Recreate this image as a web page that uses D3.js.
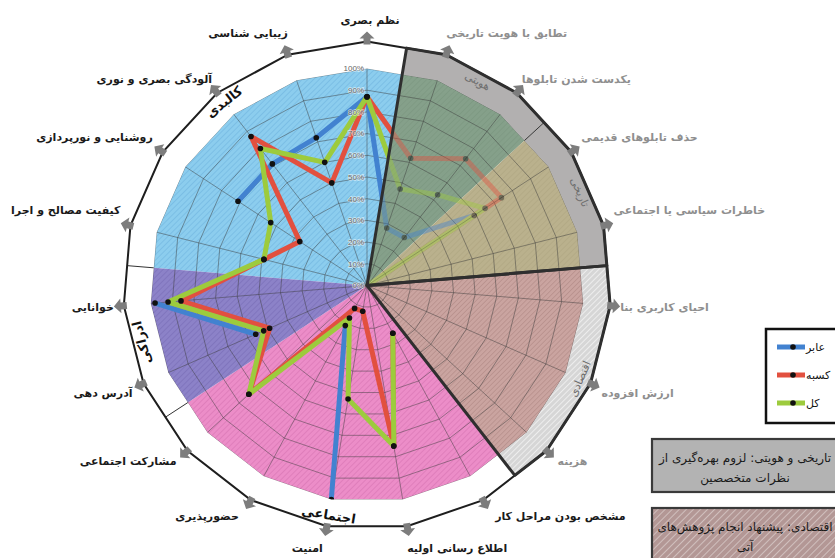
<!DOCTYPE html>
<html lang="fa">
<head>
<meta charset="UTF-8">
<title>radar - signboards</title>
<script src="https://d3js.org/d3.v7.min.js"></script>
<style>
  body { margin: 0; background: #fff; }
  svg { display: block; font-family: "DejaVu Sans", sans-serif; }
</style>
</head>
<body>
<div id="chart"></div>
<script>
// axes, clockwise from the top
const categories = ["نظم بصری", "تطابق با هویت تاریخی", "یکدست شدن تابلوها", "حذف تابلوهای قدیمی",
  "خاطرات سیاسی یا اجتماعی", "احیای کاربری بنا", "ارزش افزوده", "هزینه", "مشخص بودن مراحل کار",
  "اطلاع رسانی اولیه", "امنیت", "حضورپذیری", "مشارکت اجتماعی", "آدرس دهی", "خوانایی",
  "کیفیت مصالح و اجرا", "روشنایی و نورپردازی", "آلودگی بصری و نوری", "زیبایی شناسی"];

// percent values (null = no value drawn)
const pedestrian  = [87, 28, 28, 59, 0, null, null, null, null, null, 100, 21, null, 56, 98, null, 71, 71, 72];
const shopkeepers = [87, 62, 74, 74, 0, null, null, null, 25, 75, 12, 12, 74, 49, 86, 49, 37, 87, 50];
const total       = [87, 47, 53, 65, 0, null, null, null, 25, 75, 53, 17, 74, 52, 92, 49, 53, 80, 60];
const seriesNames = ["عابر", "کسبه", "کل"];

const tickLabels = ["0%", "10%", "20%", "30%", "40%", "50%", "60%", "70%", "80%", "90%", "100%"];

// groups of axes
const groupNames = ["کالبدی", "هویتی", "تاریخی", "اقتصادی", "اجتماعی", "ادراکی"];
const groupStart = [15, 1, 3, 5, 8, 13];
const groupSize  = [5, 2, 2, 3, 5, 2];

const noteLines = [["تاریخی و هویتی: لزوم بهره\u200cگیری از", "نظرات متخصصین"],
                   ["اقتصادی: پیشنهاد انجام پژوهش\u200cهای", "آتی"]];

const width = 835, height = 558;
const cx = 367, cy = 285.5, R = 217, Ro = 244;
const N = categories.length, step = 2 * Math.PI / N;
const deg = a => a * 180 / Math.PI;

const r = d3.scaleLinear().domain([0, 100]).range([0, R]);
const seriesColor = d3.scaleOrdinal().domain(seriesNames).range(["#4282d0", "#e2503f", "#9dcb3d"]);

const groupFill = {"کالبدی": "url(#hBlue)", "هویتی": "url(#hGreen)", "تاریخی": "url(#hTan)",
                   "اقتصادی": "url(#hEcon)", "اجتماعی": "url(#hPink)", "ادراکی": "url(#hPurple)"};
const ringFill = {"هویتی": "#b2b0b0", "تاریخی": "#b2b0b0", "اقتصادی": "url(#hRing)"};
const faded = ["هویتی", "تاریخی", "اقتصادی"];

// radius of a regular N-gon at angle a
function polyR(a, rad) {
  const d = a - (Math.floor(a / step) + 0.5) * step;
  return rad * Math.cos(step / 2) / Math.cos(d);
}
function polyPts(a0, a1, rad) {
  const pts = [[a0, polyR(a0, rad)]];
  let k = Math.floor(a0 / step + 1e-9) + 1;
  while (k * step < a1 - 1e-9) { pts.push([k * step, rad]); k++; }
  pts.push([a1, polyR(a1, rad)]);
  return pts.map(([a, rr]) => [rr * Math.sin(a), -rr * Math.cos(a)]);
}

const svg = d3.select("#chart").append("svg")
    .attr("width", width).attr("height", height);
svg.append("rect").attr("width", width).attr("height", height).attr("fill", "#fff");

// hatch patterns
const defs = svg.append("defs");
function hatch(id, base, stripe, size, sw) {
  const p = defs.append("pattern").attr("id", id).attr("patternUnits", "userSpaceOnUse")
      .attr("width", size).attr("height", size).attr("patternTransform", "rotate(45)");
  p.append("rect").attr("width", size).attr("height", size).attr("fill", base);
  p.append("line").attr("x1", 0).attr("y1", 0).attr("x2", 0).attr("y2", size)
      .attr("stroke", stripe).attr("stroke-width", sw);
}
hatch("hBlue", "#8ccdee", "#74b8e2", 4, 1.4);
hatch("hPurple", "#8c82c8", "#7b70b9", 4, 1.4);
hatch("hPink", "#ec8dc8", "#da78b5", 4, 1.4);
hatch("hGreen", "#86a18b", "#7a957f", 4, 1.2);
hatch("hTan", "#bab18d", "#aea582", 4, 1.2);
hatch("hEcon", "#caa4a0", "#b48c88", 3.5, 1.3);
hatch("hRing", "#d6d6d6", "#f4f4f4", 4, 1.6);
hatch("hBox", "#b39795", "#d8c9c8", 5, 1.6);

const clipWedge = (id, a0, a1) => defs.append("clipPath").attr("id", id).append("path")
    .attr("d", d3.arc()({innerRadius: 0, outerRadius: 320, startAngle: a0, endAngle: a1}));
clipWedge("clipActive", 7.5 * step, 19.5 * step);
clipWedge("clipFaded", 0.5 * step, 4.5 * step);

const g = svg.append("g").attr("transform", `translate(${cx},${cy})`);

const groups = groupNames.map((name, i) => ({
  name, a0: (groupStart[i] - 0.5) * step, a1: (groupStart[i] + groupSize[i] - 0.5) * step
}));

// inner sectors
g.selectAll("path.sector").data(groups).join("path")
    .attr("class", "sector")
    .attr("d", d => "M0,0L" + polyPts(d.a0, d.a1, R).join("L") + "Z")
    .attr("fill", d => groupFill[d.name]);

// grid
const grid = g.append("g").attr("stroke", "#3a3a3a").attr("stroke-opacity", 0.6)
    .attr("stroke-width", 0.8).attr("fill", "none");
grid.selectAll("path").data(d3.range(1, 11)).join("path")
    .attr("d", k => "M" + polyPts(0, 2 * Math.PI, r(k * 10)).join("L") + "Z");
grid.selectAll("line").data(d3.range(N)).join("line")
    .attr("x2", i => R * Math.sin(i * step)).attr("y2", i => -R * Math.cos(i * step));

// series
const series = [pedestrian, shopkeepers, total].map((vals, i) => ({
  name: seriesNames[i],
  pts: vals.concat([vals[0]]).map((v, j) => ({a: j * step, v}))
}));
const line = d3.lineRadial().angle(d => d.a).radius(d => r(d.v)).defined(d => d.v != null);

function drawSeries(parent) {
  series.forEach(s => {
    parent.append("path").attr("d", line(s.pts)).attr("fill", "none")
        .attr("stroke", seriesColor(s.name)).attr("stroke-width", 5).attr("stroke-linejoin", "round");
  });
  series.forEach(s => {
    parent.selectAll(null).data(s.pts.slice(0, N).filter(d => d.v != null && d.v > 0)).join("circle")
        .attr("cx", d => r(d.v) * Math.sin(d.a)).attr("cy", d => -r(d.v) * Math.cos(d.a))
        .attr("r", 2.8).attr("fill", "#111");
  });
}
drawSeries(g.append("g").attr("clip-path", "url(#clipActive)"));
drawSeries(g.append("g").attr("clip-path", "url(#clipFaded)").attr("opacity", 0.42));

// outer ring
g.selectAll("path.ring").data(groups).join("path")
    .attr("class", "ring")
    .attr("d", d => "M" + polyPts(d.a0, d.a1, Ro).join("L") + "L" + polyPts(d.a0, d.a1, R).reverse().join("L") + "Z")
    .attr("fill", d => ringFill[d.name] || "#fff");
g.selectAll("line.div").data(groups).join("line")
    .attr("class", "div")
    .attr("x1", d => polyR(d.a0, R) * Math.sin(d.a0)).attr("y1", d => -polyR(d.a0, R) * Math.cos(d.a0))
    .attr("x2", d => polyR(d.a0, Ro) * Math.sin(d.a0)).attr("y2", d => -polyR(d.a0, Ro) * Math.cos(d.a0))
    .attr("stroke", "#333").attr("stroke-width", 1);
g.append("path").attr("d", "M" + polyPts(0, 2 * Math.PI, Ro).join("L") + "Z")
    .attr("fill", "none").attr("stroke", "#1e1e1e").attr("stroke-width", 2);

// thick outlines round the faded sections
[[0.5, 4.5], [4.5, 7.5]].forEach(([s0, s1]) => {
  g.append("path").attr("d", "M0,0L" + polyPts(s0 * step, s1 * step, Ro).join("L") + "Z")
      .attr("fill", "none").attr("stroke", "#2f2f2f").attr("stroke-width", 3).attr("stroke-linejoin", "round");
});

// percent ticks on the vertical axis
g.selectAll("text.tick").data(tickLabels).join("text")
    .attr("class", "tick")
    .attr("x", -3).attr("y", (d, i) => -r(i * 10)).attr("dy", "0.35em")
    .attr("text-anchor", "end").attr("font-family", "Liberation Sans, Arial, sans-serif")
    .attr("font-size", 8).attr("fill", "#666")
    .attr("stroke", "#fff").attr("stroke-width", 1.5).attr("stroke-opacity", 0.6).attr("paint-order", "stroke")
    .text(d => d);

// arrows at the vertices
g.selectAll("path.arrow").data(d3.range(N)).join("path")
    .attr("class", "arrow")
    .attr("transform", i => `translate(${Ro * Math.sin(i * step)},${-Ro * Math.cos(i * step)}) rotate(${deg(i * step)})`)
    .attr("d", "M0,-10L7.5,-3L3.5,-3L3.5,3L-3.5,3L-3.5,-3L-7.5,-3Z")
    .attr("fill", "#7d7d7d");

// axis labels
function labelPos(i) {
  const a = i * step, s = Math.sin(a), c = Math.cos(a);
  const vx = Ro * s, vy = -Ro * c;
  if (Math.abs(s) < 0.05) return {x: vx + 3, y: vy - 21, anchor: "middle"};
  const sign = s > 0 ? 1 : -1;
  let dx, dy;
  if (c > 0.9) { dx = 0; dy = -22; }
  else if (c > 0.7) { dx = 5; dy = -14; }
  else if (c > 0.15) { dx = 10; dy = -15; }
  else if (c > -0.2) { dx = 10; dy = 2; }
  else if (c > -0.8) { dx = 11; dy = 10; }
  else if (c > -0.95) { dx = 12; dy = 16; }
  else { dx = s > 0 ? 0 : 4; dy = 22; }
  return {x: vx + sign * dx, y: vy + dy, anchor: s > 0 ? "start" : "end"};
}
g.selectAll("text.axis").data(categories).join("text")
    .attr("class", "axis")
    .each(function(d, i) {
      const p = labelPos(i);
      d3.select(this).attr("x", p.x).attr("y", p.y).attr("text-anchor", p.anchor);
    })
    .attr("dy", "0.35em").attr("font-size", 11).attr("font-weight", "bold")
    .attr("fill", (d, i) => (i >= 1 && i <= 7) ? "#8f8f8f" : "#1a1a1a")
    .text(d => d);

// group names inside the ring
g.selectAll("text.group").data(groups).join("text")
    .attr("class", "group")
    .attr("transform", d => {
      const m = (d.a0 + d.a1) / 2, rr = (R + Ro) / 2 + 2;
      let rot = deg(m);
      if (rot > 180) rot -= 360;
      if (rot > 100) rot -= 180;
      if (rot < -120) rot += 180;
      return `translate(${rr * Math.sin(m)},${-rr * Math.cos(m)}) rotate(${rot})`;
    })
    .attr("text-anchor", "middle").attr("dy", "0.35em")
    .attr("font-size", d => faded.includes(d.name) ? 11 : 13)
    .attr("font-weight", d => faded.includes(d.name) ? "normal" : "bold")
    .attr("fill", d => faded.includes(d.name) ? "#6e6e6e" : "#111")
    .text(d => d.name);

// legend
const lg = svg.append("g");
lg.append("rect").attr("x", 766).attr("y", 329).attr("width", 80).attr("height", 94)
    .attr("fill", "#fff").attr("stroke", "#111").attr("stroke-width", 2.5);
seriesNames.forEach((name, i) => {
  const y = 347 + i * 28;
  lg.append("line").attr("x1", 777).attr("x2", 805).attr("y1", y).attr("y2", y)
      .attr("stroke", seriesColor(name)).attr("stroke-width", 5);
  lg.append("circle").attr("cx", 793).attr("cy", y).attr("r", 2.8).attr("fill", "#111");
  lg.append("text").attr("x", 806).attr("y", y).attr("dy", "0.35em").attr("font-size", 11)
      .attr("fill", "#111").text(name);
});

// note boxes
const boxFill = ["#b3b3b3", "url(#hBox)"];
noteLines.forEach((lines, i) => {
  const y0 = i === 0 ? 439 : 508;
  svg.append("rect").attr("x", 652).attr("y", y0).attr("width", 190).attr("height", i === 0 ? 53 : 60)
      .attr("fill", boxFill[i]).attr("stroke", "#3a3a3a").attr("stroke-width", 2.2);
  lines.forEach((t, j) => {
    svg.append("text").attr("x", 745).attr("y", y0 + 19 + j * 20).attr("dy", "0.35em")
        .attr("text-anchor", "middle").attr("font-size", 12).attr("fill", "#1a1a1a").text(t);
  });
});
</script>
</body>
</html>
